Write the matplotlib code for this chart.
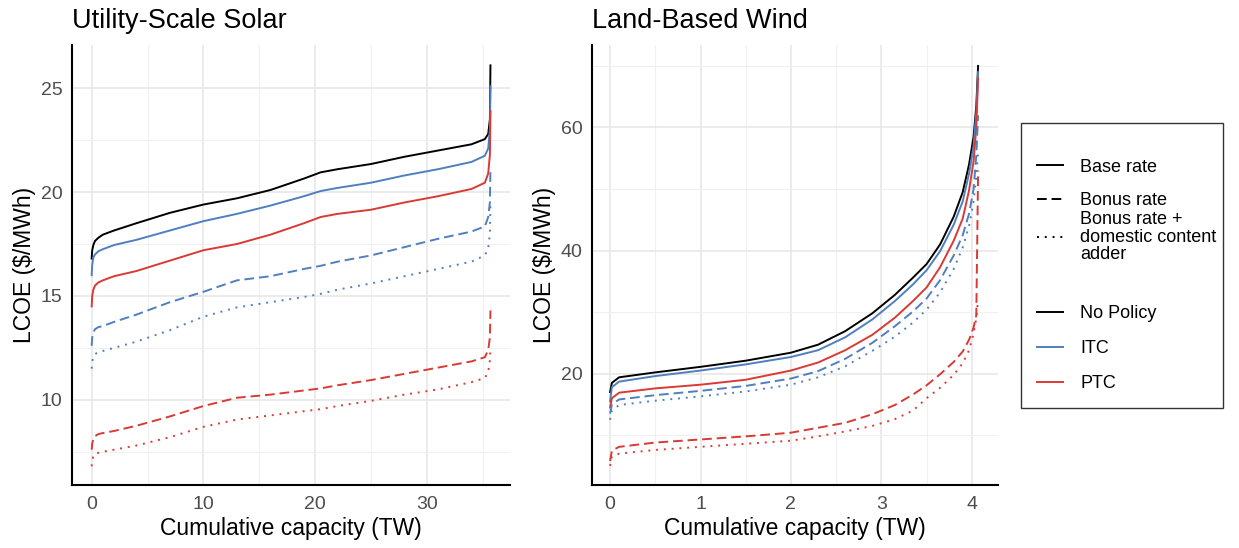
import matplotlib.pyplot as plt
from matplotlib.lines import Line2D
from matplotlib.patches import Rectangle

plt.rcParams['font.family'] = ['Liberation Sans', 'DejaVu Sans']

# ---- Utility-scale solar (TW, $/MWh) ----
solar_x = [0, 0.05, 0.15, 0.3, 0.6, 1, 2, 4, 7, 10, 13, 16, 19, 20.5, 22, 25, 28, 31, 34, 35.2, 35.5, 35.65, 35.7]
solar_nopolicy = [16.8, 17.2, 17.45, 17.65, 17.8, 17.95, 18.15, 18.5, 19.0, 19.4, 19.7, 20.1, 20.65, 20.95, 21.1, 21.35, 21.7, 22.0, 22.3, 22.55, 22.8, 23.5, 26.1]
solar_itc_base = [16.0, 16.5, 16.85, 17.0, 17.15, 17.25, 17.45, 17.7, 18.15, 18.6, 18.95, 19.35, 19.8, 20.05, 20.2, 20.45, 20.8, 21.1, 21.45, 21.75, 22.1, 23.0, 25.1]
solar_ptc_base = [14.5, 15.0, 15.3, 15.5, 15.65, 15.75, 15.95, 16.2, 16.7, 17.2, 17.5, 17.95, 18.5, 18.8, 18.95, 19.15, 19.5, 19.8, 20.15, 20.45, 20.9, 21.8, 23.9]
solar_itc_bonus = [12.6, 13.0, 13.25, 13.4, 13.5, 13.55, 13.75, 14.1, 14.7, 15.2, 15.75, 15.95, 16.3, 16.45, 16.65, 16.95, 17.35, 17.75, 18.1, 18.35, 18.8, 19.5, 21.2]
solar_itc_dom = [11.5, 11.85, 12.05, 12.2, 12.3, 12.35, 12.5, 12.8, 13.35, 14.0, 14.45, 14.7, 14.95, 15.1, 15.3, 15.6, 15.95, 16.3, 16.65, 16.95, 17.3, 18.0, 19.5]
solar_ptc_bonus = [7.6, 7.9, 8.1, 8.25, 8.35, 8.4, 8.5, 8.75, 9.2, 9.7, 10.1, 10.25, 10.45, 10.55, 10.7, 10.95, 11.25, 11.55, 11.85, 12.05, 12.4, 13.0, 14.3]
solar_ptc_dom = [6.8, 7.1, 7.3, 7.4, 7.45, 7.5, 7.6, 7.8, 8.2, 8.7, 9.05, 9.25, 9.45, 9.55, 9.7, 9.95, 10.25, 10.5, 10.85, 11.05, 11.35, 11.9, 12.5]

# ---- Land-based wind ----
wind_x = [0, 0.02, 0.1, 0.5, 1.0, 1.5, 2.0, 2.3, 2.6, 2.9, 3.15, 3.35, 3.5, 3.65, 3.8, 3.9, 3.97, 4.02, 4.05, 4.07]
wind_nopolicy = [17.0, 18.5, 19.4, 20.2, 21.1, 22.1, 23.4, 24.7, 26.9, 29.8, 32.8, 35.6, 37.8, 41.0, 45.5, 49.5, 54.0, 58.5, 63.5, 70.0]
wind_itc_base = [15.5, 17.8, 18.7, 19.6, 20.5, 21.5, 22.7, 23.8, 25.9, 28.8, 31.8, 34.5, 36.8, 39.9, 44.2, 48.0, 52.5, 57.0, 62.5, 69.0]
wind_ptc_base = [14.5, 16.0, 16.9, 17.6, 18.2, 19.0, 20.5, 21.8, 23.8, 26.3, 29.1, 31.8, 34.0, 37.3, 41.6, 45.2, 49.8, 54.5, 60.0, 68.0]
wind_itc_bonus = [13.5, 15.0, 15.8, 16.5, 17.2, 18.0, 19.2, 20.4, 22.4, 25.0, 27.7, 30.1, 32.2, 35.2, 39.2, 42.5, 46.0, 50.0, 55.5, 62.0]
wind_itc_dom = [12.5, 14.0, 14.9, 15.6, 16.3, 17.1, 18.2, 19.4, 21.2, 23.7, 26.0, 28.3, 30.4, 33.2, 37.0, 40.5, 44.0, 48.0, 52.0, 56.0]
wind_ptc_bonus = [5.8, 7.5, 8.1, 8.8, 9.3, 9.8, 10.4, 11.2, 12.0, 13.4, 14.9, 16.6, 18.1, 19.9, 21.9, 23.6, 25.5, 27.5, 29.5, 53.0]
wind_ptc_dom = [5.0, 6.5, 7.0, 7.6, 8.1, 8.6, 9.1, 9.8, 10.6, 11.5, 12.6, 14.0, 16.0, 17.7, 19.8, 21.7, 23.8, 26.5, 29.0, 32.0]

BLACK = '#000000'
BLUE = '#4f7fbf'
RED = '#d93a34'
LW = 1.4
DASH = (0, (5, 2.5))
DOT = (0, (1, 3))

W, H = 1239, 548
fig = plt.figure(figsize=(W / 100, H / 100), dpi=100)


def fx(px):
    return px / W


def fy(py):
    return 1 - py / H


TOP, BOT = 45, 485
ax1 = fig.add_axes([fx(72), fy(BOT), fx(510 - 72), (BOT - TOP) / H])
ax2 = fig.add_axes([fx(592), fy(BOT), fx(998 - 592), (BOT - TOP) / H])

series_solar = [
    (solar_nopolicy, BLACK, '-'), (solar_itc_base, BLUE, '-'), (solar_ptc_base, RED, '-'),
    (solar_itc_bonus, BLUE, DASH), (solar_itc_dom, BLUE, DOT),
    (solar_ptc_bonus, RED, DASH), (solar_ptc_dom, RED, DOT),
]
series_wind = [
    (wind_nopolicy, BLACK, '-'), (wind_itc_base, BLUE, '-'), (wind_ptc_base, RED, '-'),
    (wind_itc_bonus, BLUE, DASH), (wind_itc_dom, BLUE, DOT),
    (wind_ptc_bonus, RED, DASH), (wind_ptc_dom, RED, DOT),
]

for y, c, ls in series_solar:
    ax1.plot(solar_x, y, color=c, linestyle=ls, lw=LW)
for y, c, ls in series_wind:
    ax2.plot(wind_x, y, color=c, linestyle=ls, lw=LW)

ax1.set_xlim(-1.76, 37.45)
ax1.set_ylim(5.9, 27.08)
ax1.set_xticks([0, 10, 20, 30])
ax1.set_xticks([5, 15, 25, 35], minor=True)
ax1.set_yticks([10, 15, 20, 25])
ax1.set_yticks([7.5, 12.5, 17.5, 22.5], minor=True)

ax2.set_xlim(-0.2, 4.29)
ax2.set_ylim(1.9, 73.4)
ax2.set_xticks([0, 1, 2, 3, 4])
ax2.set_xticks([0.5, 1.5, 2.5, 3.5], minor=True)
ax2.set_yticks([20, 40, 60])
ax2.set_yticks([10, 30, 50, 70], minor=True)

for ax in (ax1, ax2):
    ax.set_axisbelow(True)
    ax.grid(which='major', color='#e6e6e6', lw=1.1)
    ax.grid(which='minor', color='#f0f0f0', lw=0.8)
    for s in ('top', 'right'):
        ax.spines[s].set_visible(False)
    for s in ('left', 'bottom'):
        ax.spines[s].set_linewidth(1.5)
        ax.spines[s].set_color('black')
    ax.tick_params(which='both', length=0, labelsize=14, labelcolor='#4d4d4d')
    ax.tick_params(axis='x', pad=8)
    ax.tick_params(axis='y', pad=7)

# titles and axis labels
fig.text(fx(72), fy(28), 'Utility-Scale Solar', fontsize=19.5, ha='left', va='baseline')
fig.text(fx(592), fy(28), 'Land-Based Wind', fontsize=19.5, ha='left', va='baseline')
for xc in (291, 795):
    fig.text(fx(xc), fy(528), 'Cumulative capacity (TW)', fontsize=16.5, ha='center', va='center')
for xc in (25, 545):
    fig.text(fx(xc), fy(265), r'LCOE (\$/MWh)', fontsize=16.5, ha='center', va='center', rotation=90)

# legend: frame drawn separately, entries in three blocks
fig.add_artist(Rectangle((fx(1021), fy(408)), fx(1223 - 1021), (408 - 123) / H,
                         transform=fig.transFigure, fill=False, edgecolor='#333333', lw=1.0))

leg_kw = dict(loc='center left', fontsize=13, frameon=False, handlelength=1.45,
              handletextpad=0.95, borderpad=0, borderaxespad=0)

rate_handles = [Line2D([], [], color=BLACK, lw=LW, linestyle='-'),
                Line2D([], [], color=BLACK, lw=LW, linestyle=DASH)]
leg_a = fig.legend(rate_handles, ['Base rate', 'Bonus rate'],
                   bbox_to_anchor=(fx(1037), fy(184)), labelspacing=0.93, **leg_kw)

leg_b = fig.legend([Line2D([], [], color=BLACK, lw=LW, linestyle=DOT)],
                   ['Bonus rate +\ndomestic content\nadder'],
                   bbox_to_anchor=(fx(1037), fy(237)), **leg_kw)
for t in leg_b.get_texts():
    t.set_linespacing(1.03)

policy_handles = [Line2D([], [], color=BLACK, lw=LW), Line2D([], [], color=BLUE, lw=LW),
                  Line2D([], [], color=RED, lw=LW)]
leg_c = fig.legend(policy_handles, ['No Policy', 'ITC', 'PTC'],
                   bbox_to_anchor=(fx(1037), fy(348.5)), labelspacing=0.99, **leg_kw)

fig.savefig('out.png', dpi=100)
